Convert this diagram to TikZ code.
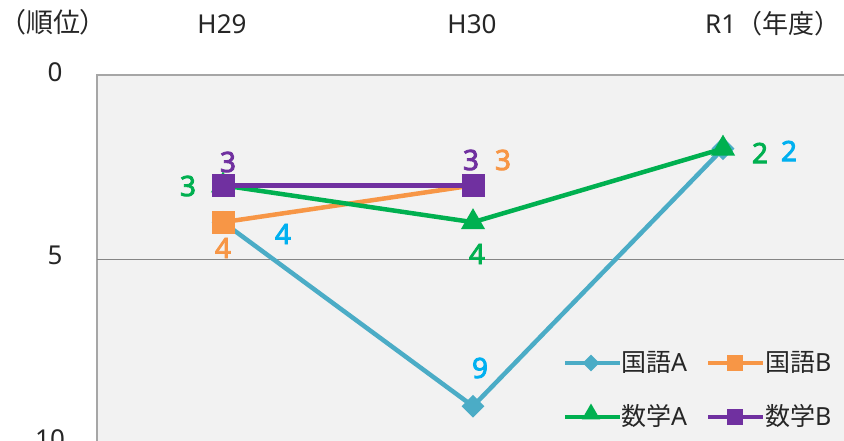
\documentclass[tikz,border=0pt]{standalone}
\usepackage{fontspec}
\setmainfont{Noto Sans}[AutoFakeBold=3]
\newfontfamily\cjk{Noto Sans CJK JP}
\usetikzlibrary{shapes.geometric}
\definecolor{kA}{HTML}{4BACC6}
\definecolor{kB}{HTML}{F79646}
\definecolor{sA}{HTML}{00B050}
\definecolor{sB}{HTML}{7030A0}
\definecolor{lblue}{HTML}{00B0F0}
\definecolor{plotbg}{HTML}{F2F2F2}
\definecolor{axisgray}{HTML}{A6A6A6}
\definecolor{txt}{HTML}{262626}
\tikzset{
  axlabel/.style={font=\fontsize{26}{28}\selectfont, text=txt, inner sep=0},
  dlabel/.style={font=\fontsize{28}{30}\selectfont\bfseries, inner sep=0},
  legtext/.style={font=\fontsize{25}{27}\selectfont, text=txt, inner sep=0, anchor=west},
  series/.style={line width=4.5pt},
  dmark/.style={diamond, aspect=1, minimum size=23pt, inner sep=0, fill=kA},
  sqmark/.style={rectangle, minimum size=23pt, inner sep=0},
  trimark/.style={regular polygon, regular polygon sides=3, minimum size=28pt, inner sep=0, fill=sA},
  ldmark/.style={diamond, aspect=1, minimum size=17pt, inner sep=0, fill=kA},
  lsqmark/.style={rectangle, minimum size=16pt, inner sep=0},
  ltrimark/.style={regular polygon, regular polygon sides=3, minimum size=21pt, inner sep=0, fill=sA},
}
\begin{document}
\begin{tikzpicture}[x=1pt,y=-1pt]
\useasboundingbox (0,0) rectangle (844,441);
% plot area
\fill[plotbg] (97,75) rectangle (844,441);
\coordinate (tl) at (97,75);
\coordinate (tr) at (844,75);
\coordinate (bl) at (97,441);
\coordinate (gl) at (97,259);
\coordinate (gr) at (844,259);
\draw[axisgray, line width=1.5pt] (bl) -- (tl) -- (tr);
\draw[axisgray!80!black, line width=1pt] (gl) -- (gr);
% axis labels
\node[axlabel, font=\fontsize{27}{29}\selectfont] (yl) at (53,22) {\cjk （順位）};
\node[axlabel] (x1) at (222,24) {H29};
\node[axlabel] (x2) at (472,24) {H30};
\node[axlabel, anchor=west] (x3) at (705,24) {R1{\cjk （年度）}};
\node[axlabel] (y0) at (55,72) {0};
\node[axlabel] (y5) at (55,255) {5};
\node[axlabel] (y10) at (50,439) {10};
% data coordinates (y = 75 + 36.8*rank)
\coordinate (a1) at (223,222.2);
\coordinate (a2) at (473,406.2);
\coordinate (a3) at (723,148.6);
\coordinate (b1) at (223,222.2);
\coordinate (b2) at (473,185.4);
\coordinate (c1) at (223,185.4);
\coordinate (c2) at (473,222.2);
\coordinate (c3) at (723,148.6);
\coordinate (d1) at (223,185.4);
\coordinate (d2) at (473,185.4);
% series 国語A
\draw[series, kA] (a1) -- (a2) -- (a3);
\node[dmark] (ma1) at (a1) {};
\node[dmark] (ma2) at (a2) {};
\node[dmark] (ma3) at (a3) {};
% series 国語B
\draw[series, kB] (b1) -- (b2);
\node[sqmark, fill=kB] (mb1) at (b1) {};
\node[sqmark, fill=kB] (mb2) at (b2) {};
% series 数学A
\draw[series, sA] (c1) -- (c2) -- (c3);
\node[trimark] (mc1) at (c1) {};
\node[trimark] (mc2) at (c2) {};
\node[trimark] (mc3) at (c3) {};
% series 数学B
\draw[series, sB] (d1) -- (d2);
\node[sqmark, fill=sB] (md1) at (d1) {};
\node[sqmark, fill=sB] (md2) at (d2) {};
% data labels
\node[dlabel, text=sB] (l1) at (228,162) {3};
\node[dlabel, text=sA] (l2) at (188,186) {3};
\node[dlabel, text=kB] (l3) at (223,248) {4};
\node[dlabel, text=lblue] (l4) at (283,234) {4};
\node[dlabel, text=sB] (l5) at (471,160) {3};
\node[dlabel, text=kB] (l6) at (503,160) {3};
\node[dlabel, text=sA] (l7) at (477,254) {4};
\node[dlabel, text=lblue] (l8) at (480,368) {9};
\node[dlabel, text=sA] (l9) at (760,153) {2};
\node[dlabel, text=lblue] (l10) at (789,151) {2};
% legend
\coordinate (la0) at (565,363); \coordinate (la1) at (620,363);
\coordinate (lb0) at (708,363); \coordinate (lb1) at (763,363);
\coordinate (lc0) at (565,417); \coordinate (lc1) at (620,417);
\coordinate (ld0) at (708,417); \coordinate (ld1) at (763,417);
\draw[series, kA] (la0) -- (la1);
\node[ldmark] (lma) at (591,363) {};
\node[legtext] (lta) at (621,362) {{\cjk 国語}A};
\draw[series, kB] (lb0) -- (lb1);
\node[lsqmark, fill=kB] (lmb) at (735,363) {};
\node[legtext] (ltb) at (765,362) {{\cjk 国語}B};
\draw[series, sA] (lc0) -- (lc1);
\node[ltrimark] (lmc) at (591,414) {};
\node[legtext] (ltc) at (621,416) {{\cjk 数学}A};
\draw[series, sB] (ld0) -- (ld1);
\node[lsqmark, fill=sB] (lmd) at (735,417) {};
\node[legtext] (ltd) at (765,416) {{\cjk 数学}B};
\end{tikzpicture}
\end{document}
